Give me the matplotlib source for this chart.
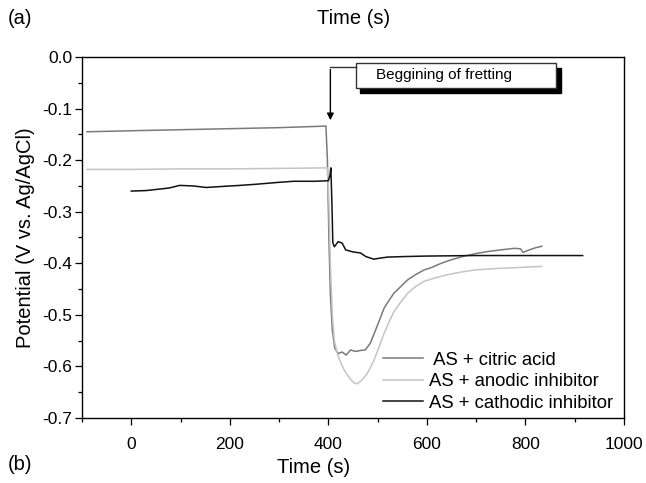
import matplotlib.pyplot as plt
from matplotlib.patches import Rectangle

plt.rcParams['font.family'] = ['Liberation Sans', 'DejaVu Sans']

# citric acid curve
t_citric = [-90, 0, 100, 200, 300, 395, 398, 401, 404, 408, 413, 420, 428, 436, 445,
            455, 465, 475, 485, 493, 503, 513, 523, 533, 547, 561, 577, 594, 610, 629,
            650, 676, 700, 725, 750, 778, 790, 795, 805, 820, 833]
e_citric = [-0.145, -0.143, -0.141, -0.139, -0.137, -0.134, -0.20, -0.35, -0.46, -0.53,
            -0.565, -0.575, -0.572, -0.578, -0.568, -0.571, -0.569, -0.568, -0.555, -0.536,
            -0.512, -0.487, -0.472, -0.458, -0.445, -0.432, -0.422, -0.413, -0.408, -0.400,
            -0.393, -0.386, -0.381, -0.377, -0.374, -0.371, -0.372, -0.379, -0.375, -0.370,
            -0.367]

# anodic inhibitor curve
t_anodic = [-90, 0, 100, 200, 300, 398, 401, 404, 408, 412, 418, 424, 431, 438, 445, 452,
            458, 465, 472, 479, 486, 493, 503, 513, 523, 533, 547, 561, 577, 594, 618, 642,
            670, 697, 744, 790, 833]
e_anodic = [-0.218, -0.218, -0.217, -0.217, -0.216, -0.215, -0.28, -0.40, -0.50, -0.55,
            -0.575, -0.590, -0.605, -0.616, -0.625, -0.632, -0.634, -0.629, -0.622, -0.613,
            -0.601, -0.587, -0.562, -0.536, -0.514, -0.494, -0.475, -0.458, -0.445, -0.435,
            -0.428, -0.422, -0.417, -0.413, -0.410, -0.408, -0.406]

# cathodic inhibitor curve
t_cathodic = [0, 30, 77, 98, 125, 152, 185, 220, 250, 275, 300, 329, 370, 400, 403, 405,
              407, 409, 412, 420, 428, 435, 450, 465, 476, 492, 505, 520, 553, 600, 700,
              800, 916]
e_cathodic = [-0.260, -0.259, -0.254, -0.249, -0.250, -0.253, -0.251, -0.249, -0.247,
              -0.245, -0.243, -0.241, -0.241, -0.240, -0.230, -0.215, -0.28, -0.36, -0.368,
              -0.358, -0.361, -0.374, -0.378, -0.380, -0.387, -0.392, -0.390, -0.388,
              -0.387, -0.386, -0.385, -0.385, -0.385]

fig = plt.figure(figsize=(6.46, 4.83), dpi=100)
ax = fig.add_axes([0.127, 0.1346, 0.839, 0.7474])

ax.plot(t_citric, e_citric, color='#7a7a7a', lw=1.1, label=' AS + citric acid')
ax.plot(t_anodic, e_anodic, color='#c4c4c4', lw=1.1, label='AS + anodic inhibitor')
ax.plot(t_cathodic, e_cathodic, color='#111111', lw=1.1, label='AS + cathodic inhibitor')

ax.set_xlim(-100, 1000)
ax.set_ylim(-0.7, 0.0)
ax.set_xticks([0, 200, 400, 600, 800, 1000])
ax.set_xticks([-100, 100, 300, 500, 700, 900], minor=True)
ax.set_yticks([-0.7, -0.6, -0.5, -0.4, -0.3, -0.2, -0.1, 0.0])
ax.set_yticks([-0.65, -0.55, -0.45, -0.35, -0.25, -0.15, -0.05], minor=True)
ax.set_yticklabels(['-0.7', '-0.6', '-0.5', '-0.4', '-0.3', '-0.2', '-0.1', '0.0'])
ax.tick_params(which='major', direction='out', length=5, width=0.9, labelsize=12.5)
ax.tick_params(which='minor', direction='out', length=3, width=0.9)
ax.tick_params(axis='x', pad=9)
ax.tick_params(axis='y', pad=2)
for s in ax.spines.values():
    s.set_linewidth(1.0)

ax.set_ylabel('Potential (V vs. Ag/AgCl)', fontsize=14.5, labelpad=5)

leg = ax.legend(loc='lower right', frameon=False, fontsize=13.3, handlelength=2.2,
                handletextpad=0.3, labelspacing=0.25, borderaxespad=0.2,
                bbox_to_anchor=(1.0, -0.014))

# annotation box with shadow
ax.add_patch(Rectangle((465, -0.070), 408, 0.049, facecolor='black', edgecolor='black',
                       zorder=4))
ax.add_patch(Rectangle((457, -0.060), 404, 0.049, facecolor='white', edgecolor='#333333',
                       lw=1.0, zorder=5))
ax.text(496, -0.035, 'Beggining of fretting', fontsize=11, va='center', ha='left', zorder=6)
ax.plot([404, 457], [-0.019, -0.019], color='#333333', lw=1.0, zorder=5)
ax.annotate('', xy=(404, -0.128), xytext=(404, -0.019),
            arrowprops=dict(arrowstyle='-|>', color='black', lw=1.0, mutation_scale=10),
            zorder=5)

fig.text(0.012, 0.962, '(a)', fontsize=14.5, va='center', ha='left')
fig.text(0.548, 0.962, 'Time (s)', fontsize=14.5, va='center', ha='center')
fig.text(0.012, 0.038, '(b)', fontsize=14.5, va='center', ha='left')
fig.text(0.485, 0.033, 'Time (s)', fontsize=14.5, va='center', ha='center')

fig.savefig('out.png', dpi=100)
